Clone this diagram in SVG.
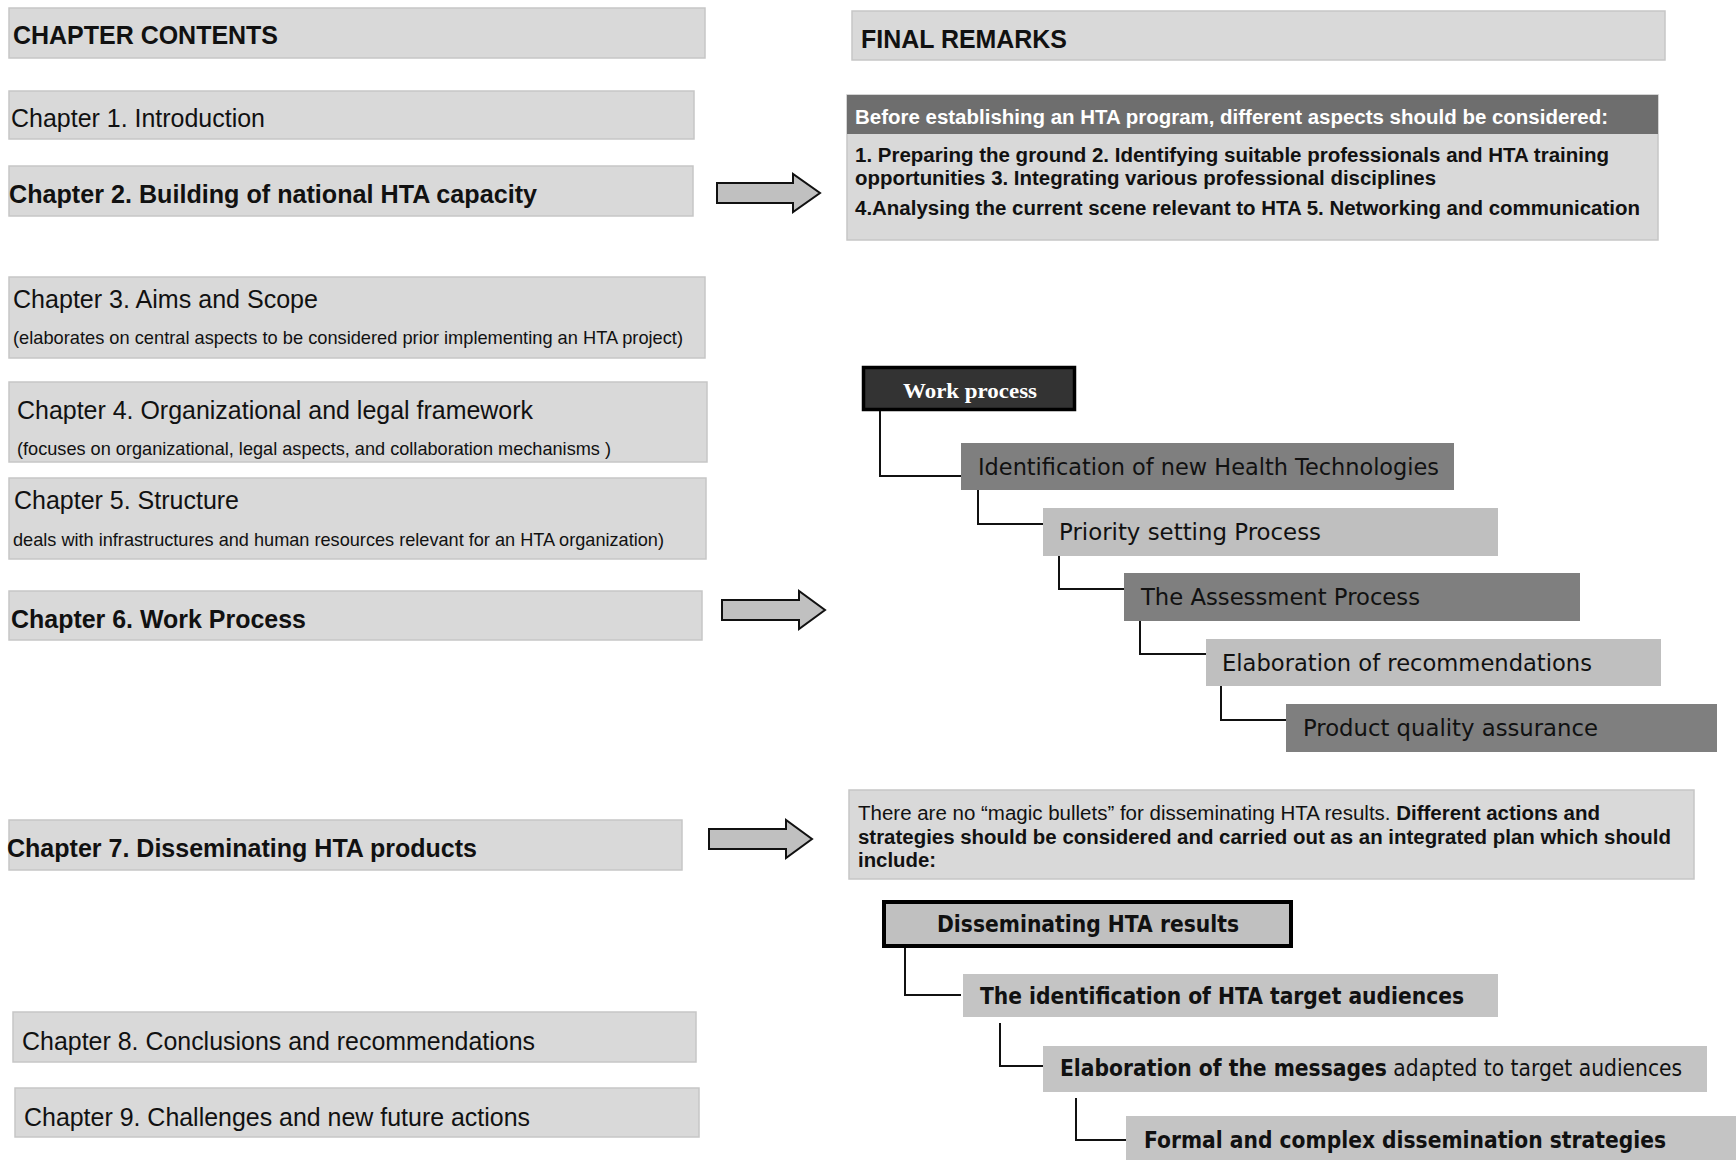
<svg xmlns="http://www.w3.org/2000/svg" width="1736" height="1160" viewBox="0 0 1736 1160">
<style>
.bg{fill:#ffffff}
.box{fill:#d9d9d9;stroke:#c6c6c6;stroke-width:1.5}
.t{font-family:"Liberation Sans",Arial,sans-serif;fill:#111}
.b{font-weight:bold}
.h{font-size:26px}
.s{font-size:19px}
.r{font-size:20px}
.v{font-family:"DejaVu Sans",Verdana,sans-serif;fill:#111;font-size:23px}
.dk{fill:#7f7f7f}
.lt{fill:#bfbfbf}
.dg{fill:#c4c4c4}
.conn{fill:none;stroke:#111;stroke-width:2}
.arrow{fill:#c0c0c0;stroke:#111;stroke-width:2;stroke-linejoin:miter}
</style>
<rect class="bg" x="0" y="0" width="1736" height="1160"/>

<!-- Left column -->
<g id="chapter-contents"><rect class="box" x="9" y="8" width="696" height="50"/><text class="t b h" x="13" y="44" textLength="265" lengthAdjust="spacingAndGlyphs">CHAPTER CONTENTS</text></g>
<g id="ch1"><rect class="box" x="9" y="91" width="685" height="48"/><text class="t h" x="11" y="127" textLength="254" lengthAdjust="spacingAndGlyphs">Chapter 1. Introduction</text></g>
<g id="ch2"><rect class="box" x="9" y="166" width="684" height="50"/><text class="t b h" x="9" y="203" textLength="528" lengthAdjust="spacingAndGlyphs">Chapter 2. Building of national HTA capacity</text></g>
<g id="ch3"><rect class="box" x="9" y="277" width="696" height="81"/><text class="t h" x="13" y="308" textLength="305" lengthAdjust="spacingAndGlyphs">Chapter 3. Aims and Scope</text><text class="t s" x="13" y="344" textLength="670" lengthAdjust="spacingAndGlyphs">(elaborates on central aspects to be considered prior implementing an HTA project)</text></g>
<g id="ch4"><rect class="box" x="9" y="382" width="698" height="80"/><text class="t h" x="17" y="419" textLength="516" lengthAdjust="spacingAndGlyphs">Chapter 4. Organizational and legal framework</text><text class="t s" x="17" y="455" textLength="594" lengthAdjust="spacingAndGlyphs">(focuses on organizational, legal aspects, and collaboration mechanisms )</text></g>
<g id="ch5"><rect class="box" x="9" y="478" width="697" height="81"/><text class="t h" x="14" y="509" textLength="225" lengthAdjust="spacingAndGlyphs">Chapter 5. Structure</text><text class="t s" x="13" y="546" textLength="651" lengthAdjust="spacingAndGlyphs">deals with infrastructures and human resources relevant for an HTA organization)</text></g>
<g id="ch6"><rect class="box" x="9" y="591" width="693" height="49"/><text class="t b h" x="11" y="628" textLength="295" lengthAdjust="spacingAndGlyphs">Chapter 6. Work Process</text></g>
<g id="ch7"><rect class="box" x="9" y="820" width="673" height="50"/><text class="t b h" x="7" y="857" textLength="470" lengthAdjust="spacingAndGlyphs">Chapter 7. Disseminating HTA products</text></g>
<g id="ch8"><rect class="box" x="13" y="1012" width="683" height="50"/><text class="t h" x="22" y="1050" textLength="513" lengthAdjust="spacingAndGlyphs">Chapter 8. Conclusions and recommendations</text></g>
<g id="ch9"><rect class="box" x="15" y="1088" width="684" height="49"/><text class="t h" x="24" y="1126" textLength="506" lengthAdjust="spacingAndGlyphs">Chapter 9. Challenges and new future actions</text></g>

<!-- Right column -->
<g id="final-remarks"><rect class="box" x="852" y="11" width="813" height="49"/><text class="t b h" x="861" y="48" textLength="206" lengthAdjust="spacingAndGlyphs">FINAL REMARKS</text></g>
<g id="before"><rect class="box" x="847" y="95" width="811" height="145"/><rect x="847" y="95" width="811" height="39" fill="#6e6e6e"/>
<text class="t b r" x="855" y="124" style="fill:#fff" textLength="753" lengthAdjust="spacingAndGlyphs">Before establishing an HTA program, different aspects should be considered:</text>
<text class="t b r" x="855" y="162" textLength="754" lengthAdjust="spacingAndGlyphs">1. Preparing the ground 2. Identifying suitable professionals and HTA training</text>
<text class="t b r" x="855" y="185" textLength="581" lengthAdjust="spacingAndGlyphs">opportunities 3. Integrating various professional disciplines</text>
<text class="t b r" x="855" y="215" textLength="785" lengthAdjust="spacingAndGlyphs">4.Analysing the current scene relevant to HTA 5. Networking and communication</text></g>

<g id="work-process"><rect x="863.5" y="367.5" width="211" height="42" fill="#333" stroke="#000" stroke-width="3.5"/><text x="970" y="398" text-anchor="middle" font-family="'Liberation Serif','Times New Roman',serif" font-weight="bold" font-size="22" fill="#fff" textLength="134" lengthAdjust="spacingAndGlyphs">Work process</text></g>
<g id="wp1"><rect class="dk" x="961" y="443" width="493" height="47"/><text class="v" x="978" y="475" textLength="461" lengthAdjust="spacingAndGlyphs">Identification of new Health Technologies</text></g>
<g id="wp2"><rect class="lt" x="1043" y="508" width="455" height="48"/><text class="v" x="1059" y="540" textLength="262" lengthAdjust="spacingAndGlyphs">Priority setting Process</text></g>
<g id="wp3"><rect class="dk" x="1124" y="573" width="456" height="48"/><text class="v" x="1141" y="605" textLength="279" lengthAdjust="spacingAndGlyphs">The Assessment Process</text></g>
<g id="wp4"><rect class="lt" x="1206" y="639" width="455" height="47"/><text class="v" x="1222" y="671" textLength="370" lengthAdjust="spacingAndGlyphs">Elaboration of recommendations</text></g>
<g id="wp5"><rect class="dk" x="1286" y="704" width="431" height="48"/><text class="v" x="1303" y="736" textLength="295" lengthAdjust="spacingAndGlyphs">Product quality assurance</text></g>

<g id="magic"><rect class="box" x="849" y="790" width="845" height="89"/>
<text class="t r" x="858" y="820" textLength="742" lengthAdjust="spacingAndGlyphs">There are no “magic bullets” for disseminating HTA results. <tspan font-weight="bold">Different actions and</tspan></text>
<text class="t b r" x="858" y="844" textLength="813" lengthAdjust="spacingAndGlyphs">strategies should be considered and carried out as an integrated plan which should</text>
<text class="t b r" x="858" y="867" textLength="78" lengthAdjust="spacingAndGlyphs">include:</text></g>

<g id="diss"><rect x="884" y="902" width="407" height="44" fill="#c0c0c0" stroke="#000" stroke-width="4"/><text class="v b" x="1088" y="932" text-anchor="middle" textLength="302" lengthAdjust="spacingAndGlyphs" font-size="22">Disseminating HTA results</text></g>
<g id="d1"><rect class="dg" x="963" y="974" width="535" height="43"/><text class="v b" x="980" y="1004" font-size="22" textLength="484" lengthAdjust="spacingAndGlyphs">The identification of HTA target audiences</text></g>
<g id="d2"><rect class="dg" x="1043" y="1046" width="664" height="46"/><text class="v" transform="translate(1060,1076) scale(0.883,1)" x="0" y="0" font-size="22"><tspan font-weight="bold">Elaboration of the messages</tspan> adapted to target audiences</text></g>
<g id="d3"><rect class="dg" x="1126" y="1116" width="610" height="44"/><text class="v b" x="1144" y="1148" font-size="22" textLength="522" lengthAdjust="spacingAndGlyphs">Formal and complex dissemination strategies</text></g>

<!-- Connectors -->
<g id="connectors">
<path class="arrow" d="M717,183 H793 V174 L820,193 L793,212 V203 H717 Z"/>
<path class="arrow" d="M722,600 H799 V591 L825,610 L799,629 V620 H722 Z"/>
<path class="arrow" d="M709,829 H786 V820 L812,839 L786,858 V849 H709 Z"/>
<path class="conn" d="M880,411 V476 H961"/>
<path class="conn" d="M978,490 V524 H1043"/>
<path class="conn" d="M1059,556 V589 H1124"/>
<path class="conn" d="M1140,621 V654 H1206"/>
<path class="conn" d="M1221,686 V720 H1286"/>
<path class="conn" d="M905,948 V995 H961"/>
<path class="conn" d="M1000,1023 V1066 H1043"/>
<path class="conn" d="M1076,1098 V1140 H1126"/>
</g>
</svg>
